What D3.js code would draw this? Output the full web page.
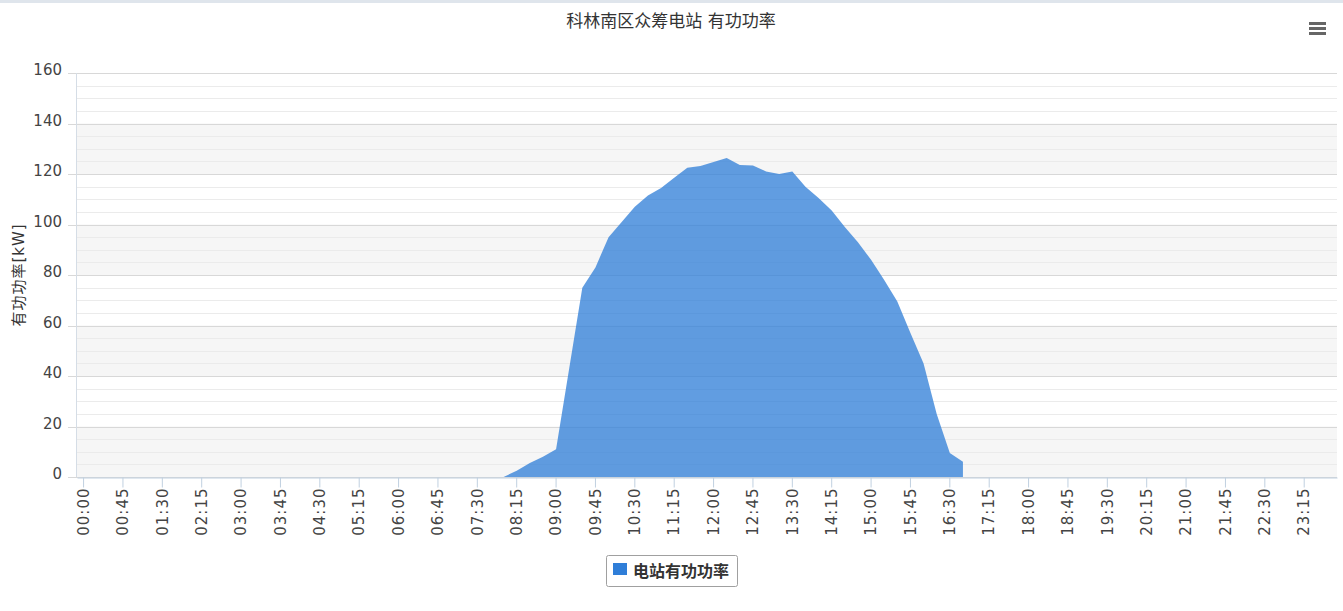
<!DOCTYPE html>
<html>
<head>
<meta charset="utf-8">
<script src="https://cdn.jsdelivr.net/npm/d3@7"></script>
<style>
  body { margin: 0; background: #fff; }
  svg text { font-family: "DejaVu Sans", "Noto Sans CJK SC", sans-serif; }
</style>
</head>
<body>
<svg id="chart" width="1343" height="611"></svg>
<script>
var titleText = "科林南区众筹电站 有功功率";
var yTitle = "有功功率[kW]";
var seriesName = "电站有功功率";

// 15 minute categories, 00:00 .. 23:45
var categories = d3.range(96).map(function(i) {
  var h = Math.floor(i / 4), m = (i % 4) * 15;
  return (h < 10 ? "0" : "") + h + ":" + (m < 10 ? "0" : "") + m;
});

var power = [
  0, 0, 0, 0, 0, 0, 0, 0, 0, 0, 0, 0, 0, 0, 0, 0,
  0, 0, 0, 0, 0, 0, 0, 0, 0, 0, 0, 0, 0, 0, 0, 0,
  0, 2.5, 5.5, 8, 11, 43, 75, 83, 95, 101, 107, 111.5, 114.5, 118.5, 122.5, 123.2,
  124.8, 126.3, 123.6, 123.4, 121, 120, 121, 115, 110.5, 105.5, 99, 93, 86, 78, 69.5, 57,
  45, 25, 9.5, 6, null, null, null, null, null, null, null, null, null, null, null, null,
  null, null, null, null, null, null, null, null, null, null, null, null, null, null, null, null
];

var yTicks = [0, 20, 40, 60, 80, 100, 120, 140, 160];

var chart = (function(self) {
  self.init = function() {
    var svg = d3.select("#chart"),
        width = +svg.attr("width");

    var pl = 77, pr = 1337, pt = 73, pb = 477;
    var font = '"DejaVu Sans", "Noto Sans CJK SC", sans-serif';

    var x = d3.scaleBand().domain(categories).range([pl, pr]).padding(0);
    var y = d3.scaleLinear().domain([0, 160]).range([pb, pt]);
    var cx = function(c) { return x(c) + x.bandwidth() / 2; };

    // top border
    svg.append("rect").attr("x", 0).attr("y", 0).attr("width", width).attr("height", 3)
        .attr("fill", "#dfe5ec");

    // alternate bands
    svg.append("g").selectAll("rect")
        .data(d3.pairs(yTicks).filter(function(d, i) { return i % 2 === 0; }))
      .enter().append("rect")
        .attr("x", pl).attr("width", pr - pl)
        .attr("y", function(d) { return y(d[1]); })
        .attr("height", function(d) { return y(d[0]) - y(d[1]); })
        .attr("fill", "#f6f6f6");

    // minor grid
    svg.append("g").selectAll("line")
        .data(y.ticks(40).filter(function(v) { return v % 20 !== 0; }))
      .enter().append("line")
        .attr("x1", pl).attr("x2", pr)
        .attr("y1", function(d) { return Math.round(y(d)) + 0.5; })
        .attr("y2", function(d) { return Math.round(y(d)) + 0.5; })
        .attr("stroke", "#ebebeb");

    // major grid
    svg.append("g").selectAll("line")
        .data(yTicks)
      .enter().append("line")
        .attr("x1", pl - 9).attr("x2", pr)
        .attr("y1", function(d) { return Math.round(y(d)) + 0.5; })
        .attr("y2", function(d) { return Math.round(y(d)) + 0.5; })
        .attr("stroke", "#d8d8d8");

    // area
    var area = d3.area()
        .defined(function(d) { return d != null; })
        .x(function(d, i) { return cx(categories[i]); })
        .y0(y(0))
        .y1(function(d) { return y(d); });

    svg.append("path")
        .datum(power)
        .attr("d", area)
        .attr("fill", "#2f7ed8")
        .attr("fill-opacity", 0.76);

    // plot left edge
    svg.append("line").attr("x1", pl - 0.5).attr("x2", pl - 0.5)
        .attr("y1", pt).attr("y2", pb).attr("stroke", "#d5dde6");

    // x axis
    var xAxis = d3.axisBottom(x)
        .tickValues(categories.filter(function(d, i) { return i % 3 === 0; }))
        .tickSize(10)
        .tickSizeOuter(0);

    var gx = svg.append("g")
        .attr("transform", "translate(0," + (pb + 0.5) + ")")
        .call(xAxis);
    gx.attr("font-family", font);
    gx.select(".domain").attr("stroke", "#c0d0e0");
    gx.selectAll(".tick line").attr("stroke", "#c0d0e0");
    gx.selectAll(".tick text")
        .attr("transform", "rotate(-90)")
        .attr("x", -10).attr("y", 0).attr("dy", "0.35em")
        .attr("text-anchor", "end")
        .style("font-family", font)
        .style("font-size", "15px")
        .style("letter-spacing", "1px")
        .attr("fill", "#444");

    // y labels
    svg.append("g").selectAll("text")
        .data(yTicks)
      .enter().append("text")
        .attr("x", 62)
        .attr("y", function(d) { return y(d) + 2; })
        .attr("text-anchor", "end")
        .style("font-family", font)
        .style("font-size", "15px")
        .attr("fill", "#444")
        .text(function(d) { return d; });

    // y title
    svg.append("text")
        .attr("transform", "translate(24," + ((pt + pb) / 2) + ") rotate(-90)")
        .attr("text-anchor", "middle")
        .style("font-family", font)
        .style("font-size", "15px")
        .style("letter-spacing", "1px")
        .attr("fill", "#333")
        .text(yTitle);

    // title
    svg.append("text")
        .attr("x", 671).attr("y", 27)
        .attr("text-anchor", "middle")
        .style("font-family", font)
        .style("font-size", "17px")
        .attr("fill", "#333")
        .text(titleText);

    // menu icon
    svg.append("g").selectAll("rect")
        .data([23, 28, 33])
      .enter().append("rect")
        .attr("x", 1309).attr("y", function(d) { return d - 1; })
        .attr("width", 17).attr("height", 3)
        .attr("fill", "#666");

    // legend
    var lg = svg.append("g");
    lg.append("rect")
        .attr("x", 606.5).attr("y", 555.5).attr("width", 131).attr("height", 31)
        .attr("rx", 2)
        .attr("fill", "#fff").attr("stroke", "#a0a0a0");
    lg.append("rect")
        .attr("x", 613).attr("y", 563).attr("width", 14).attr("height", 12)
        .attr("fill", "#2f7ed8");
    lg.append("text")
        .attr("x", 633).attr("y", 577)
        .style("font-family", font)
        .style("font-size", "16px").style("font-weight", "bold")
        .attr("fill", "#333")
        .text(seriesName);
  };
  return self;
})({});

chart.init();
</script>
</body>
</html>
